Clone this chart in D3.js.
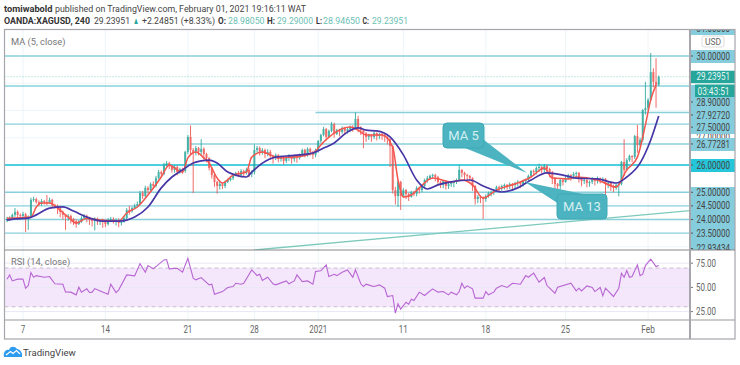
<!DOCTYPE html>
<html>
<head>
<meta charset="utf-8">
<script src="https://cdn.jsdelivr.net/npm/d3@7"></script>
<style>
    html, body { margin: 0; padding: 0; background: #fff; }
    svg { display: block; }
    text { font-family: Roboto, "Noto Sans", sans-serif; }
</style>
</head>
<body>
<svg id="chart" width="740" height="365"></svg>
<script>
// 4h bars
const closes = [
    24.02, 24.05, 24.17, 24.28, 24.17, 24.13, 24.20, 24.05, 24.09, 24.72,
    24.75, 24.64, 24.57, 24.68, 24.64, 24.61, 24.72, 24.53, 24.50, 24.42,
    24.28, 24.17, 24.09, 24.13, 24.02, 23.94, 23.83, 23.91, 24.05, 24.13,
    24.05, 23.98, 23.94, 24.02, 23.94, 23.98, 23.91, 23.83, 23.98, 24.02,
    23.94, 23.98, 23.87, 23.91, 24.05, 24.35, 24.31, 24.42, 24.50, 24.57,
    24.97, 24.86, 25.16, 25.08, 25.30, 25.23, 25.52, 25.74, 25.67, 26.00,
    26.07, 25.96, 25.82, 25.93, 25.74, 25.85, 25.78, 26.48, 27.03, 26.55,
    26.44, 26.62, 26.48, 26.59, 26.40, 26.26, 25.89, 25.63, 25.38, 25.23,
    25.30, 25.23, 25.38, 25.45, 25.52, 25.60, 25.71, 25.63, 25.78, 25.71,
    25.82, 25.67, 25.74, 26.55, 26.62, 26.48, 26.55, 26.40, 26.48, 26.33,
    26.26, 26.37, 26.22, 26.29, 26.15, 26.26, 26.33, 26.22, 26.33, 26.26,
    26.37, 26.55, 26.40, 26.59, 26.48, 26.37, 26.55, 26.88, 27.10, 27.32,
    27.03, 27.25, 27.50, 27.14, 27.28, 27.21, 27.36, 27.25, 27.32, 27.39,
    27.36, 27.69, 27.39, 27.28, 27.17, 27.03, 27.10, 27.03, 27.17, 27.06,
    27.14, 27.10, 27.03, 26.95, 26.70, 25.08, 24.86, 25.38, 24.86, 25.08,
    24.94, 24.83, 25.01, 24.94, 25.16, 25.08, 25.23, 25.45, 25.52, 25.60,
    25.63, 25.56, 25.38, 25.27, 25.41, 25.23, 25.30, 25.34, 25.38, 25.45,
    25.82, 25.71, 25.63, 25.60, 25.52, 25.23, 24.75, 24.83, 24.79, 24.75,
    24.86, 24.97, 25.01, 25.08, 25.19, 25.16, 25.23, 25.27, 25.23, 25.30,
    25.27, 25.34, 25.38, 25.30, 25.41, 25.45, 25.60, 25.78, 25.74, 25.89,
    25.93, 25.82, 25.96, 25.85, 25.74, 25.52, 25.30, 25.23, 25.45, 25.38,
    25.52, 25.63, 25.60, 25.67, 25.71, 25.49, 25.41, 25.45, 25.34, 25.38,
    25.49, 25.41, 25.52, 25.45, 25.49, 25.30, 25.34, 25.23, 25.16, 25.27,
    25.30, 26.11, 25.82, 26.18, 26.33, 26.29, 27.06, 26.73, 26.92, 28.02,
    28.09, 28.39, 29.41, 29.05, 28.94, 29.24
];
const highs = [
    24.10, 24.12, 24.22, 24.42, 24.33, 24.22, 24.28, 24.24, 24.15, 24.80,
    24.84, 24.80, 24.70, 24.75, 24.72, 24.90, 24.80, 24.76, 24.58, 24.55,
    24.46, 24.33, 24.20, 24.20, 24.18, 24.06, 24.00, 23.98, 24.12, 24.20,
    24.18, 24.10, 24.03, 24.08, 24.07, 24.02, 24.03, 23.96, 24.05, 24.09,
    24.08, 24.04, 24.04, 23.96, 24.12, 24.42, 24.50, 24.48, 24.58, 24.66,
    25.05, 25.05, 25.24, 25.22, 25.36, 25.40, 25.60, 25.82, 25.80, 26.08,
    26.15, 26.12, 26.00, 26.00, 25.98, 25.90, 25.90, 26.52, 27.10, 27.45,
    26.62, 26.70, 26.66, 26.95, 26.65, 26.45, 26.28, 25.92, 25.70, 25.42,
    25.38, 25.33, 25.43, 25.50, 25.58, 25.65, 25.75, 25.78, 25.85, 25.83,
    25.90, 25.88, 25.80, 26.75, 26.70, 26.68, 26.62, 26.60, 26.58, 26.55,
    26.38, 26.42, 26.40, 26.35, 26.33, 26.32, 26.40, 26.37, 26.38, 26.36,
    26.42, 26.60, 26.60, 26.65, 26.64, 26.52, 26.60, 26.92, 27.15, 27.40,
    27.36, 27.30, 27.58, 27.55, 27.33, 27.33, 27.42, 27.40, 27.38, 27.45,
    27.46, 27.93, 27.80, 27.42, 27.32, 27.20, 27.15, 27.14, 27.22, 27.20,
    27.18, 27.18, 27.14, 27.05, 26.98, 26.72, 25.20, 25.45, 25.42, 25.15,
    25.12, 24.98, 25.05, 25.05, 25.22, 25.20, 25.28, 25.50, 25.60, 25.65,
    25.68, 25.68, 25.60, 25.42, 25.45, 25.45, 25.36, 25.38, 25.42, 25.50,
    26.00, 25.85, 25.75, 25.68, 25.63, 25.55, 25.26, 24.90, 24.88, 24.85,
    24.92, 25.02, 25.06, 25.12, 25.24, 25.24, 25.28, 25.32, 25.30, 25.36,
    25.34, 25.38, 25.44, 25.40, 25.46, 25.50, 25.65, 25.82, 25.84, 25.95,
    26.05, 25.98, 26.04, 26.02, 25.90, 25.78, 25.55, 25.34, 25.50, 25.50,
    25.58, 25.68, 25.66, 25.74, 25.76, 25.74, 25.52, 25.50, 25.48, 25.43,
    25.56, 25.52, 25.58, 25.54, 25.55, 25.52, 25.38, 25.38, 25.28, 25.32,
    25.35, 26.15, 26.95, 26.25, 26.38, 26.36, 27.10, 27.47, 27.00, 28.05,
    29.05, 28.45, 30.11, 29.55, 29.92, 29.28
];
const lows = [
    23.90, 23.95, 23.98, 24.10, 24.05, 24.05, 24.10, 23.54, 23.62, 24.05,
    24.65, 24.58, 24.50, 24.50, 24.55, 24.52, 24.58, 24.45, 24.40, 24.20,
    24.08, 24.00, 23.62, 23.95, 23.85, 23.80, 23.70, 23.80, 23.88, 24.00,
    23.90, 23.80, 23.75, 23.60, 23.80, 23.80, 23.70, 23.72, 23.78, 23.90,
    23.85, 23.78, 23.72, 23.78, 23.88, 24.02, 24.18, 24.25, 24.38, 24.45,
    24.55, 24.75, 24.80, 24.95, 25.00, 25.15, 25.18, 25.48, 25.55, 25.62,
    25.95, 25.85, 25.72, 25.72, 25.62, 25.68, 25.68, 25.72, 26.40, 26.40,
    24.97, 26.35, 26.35, 26.35, 26.20, 26.10, 25.80, 25.50, 25.20, 24.95,
    25.10, 25.12, 25.15, 25.33, 25.40, 25.45, 25.58, 25.55, 25.55, 25.60,
    25.65, 25.55, 25.55, 25.65, 26.45, 26.35, 26.38, 26.25, 26.32, 26.20,
    26.05, 26.18, 26.10, 26.12, 26.02, 26.08, 26.15, 26.05, 26.12, 26.08,
    26.20, 26.30, 26.28, 26.30, 26.35, 26.22, 26.28, 26.45, 26.80, 27.05,
    26.90, 27.00, 27.20, 27.00, 27.10, 27.05, 27.15, 27.10, 27.15, 27.22,
    27.22, 27.30, 27.20, 27.10, 26.62, 26.85, 26.92, 26.85, 26.95, 26.90,
    26.95, 26.92, 26.85, 26.75, 25.93, 24.95, 24.55, 24.46, 24.35, 24.80,
    24.75, 24.68, 24.80, 24.85, 24.85, 24.95, 25.00, 25.15, 25.35, 25.45,
    25.50, 25.40, 25.25, 25.15, 25.15, 25.10, 25.12, 25.20, 25.18, 25.30,
    25.40, 25.55, 25.45, 25.45, 25.40, 25.05, 24.55, 24.60, 24.60, 24.02,
    24.65, 24.80, 24.85, 24.90, 25.05, 25.00, 25.05, 25.10, 25.10, 25.12,
    25.10, 25.15, 25.22, 25.15, 25.20, 25.30, 25.40, 25.55, 25.60, 25.65,
    25.75, 25.70, 25.72, 25.70, 25.55, 25.30, 25.05, 24.98, 25.10, 25.25,
    25.35, 25.45, 25.42, 25.48, 25.55, 25.35, 25.22, 25.30, 25.18, 25.20,
    25.30, 25.25, 25.32, 25.32, 25.35, 24.83, 25.15, 25.05, 25.00, 25.08,
    24.85, 25.25, 25.60, 25.78, 26.12, 26.10, 26.22, 26.45, 26.65, 26.85,
    27.85, 28.00, 28.35, 28.85, 28.10, 28.90
];

// moving averages, read at the bars where the curves turn
const ma5Bars = [0, 9, 11, 13, 16, 19, 23, 26, 30, 35, 42, 45, 49, 53, 58, 61, 64, 66, 68, 71, 74, 76, 79, 81, 85, 90, 92, 96, 102, 108, 115, 119, 123, 129, 132, 135, 141, 145, 147, 149, 152, 155, 160, 167, 171, 175, 179, 184, 192, 197, 202, 205, 211, 214, 222, 229, 233, 237, 240, 242, 244];
const ma5Values = [24.05, 24.09, 24.46, 24.61, 24.61, 24.42, 24.09, 23.87, 24.05, 23.98, 23.94, 24.24, 24.46, 24.90, 25.56, 26.00, 25.82, 25.74, 26.26, 26.48, 26.26, 26.07, 25.52, 25.34, 25.63, 25.74, 26.29, 26.48, 26.26, 26.29, 26.44, 26.84, 27.17, 27.39, 27.28, 27.10, 27.10, 26.66, 25.45, 24.83, 24.90, 25.16, 25.52, 25.38, 25.45, 25.27, 24.79, 25.08, 25.34, 25.56, 25.89, 25.52, 25.49, 25.56, 25.45, 25.19, 25.82, 26.29, 27.47, 28.39, 28.94];
const ma13Bars = [0, 3, 8, 11, 16, 21, 25, 30, 36, 42, 48, 53, 58, 62, 66, 70, 73, 76, 79, 83, 86, 90, 92, 96, 101, 105, 110, 115, 119, 123, 128, 132, 135, 139, 144, 149, 154, 158, 162, 167, 174, 179, 186, 192, 197, 203, 209, 214, 222, 229, 233, 238, 242, 245];
const ma13Values = [23.98, 24.02, 24.05, 24.17, 24.42, 24.46, 24.31, 24.09, 23.94, 23.94, 24.09, 24.46, 25.16, 25.56, 25.82, 26.07, 26.15, 26.18, 26.07, 25.74, 25.63, 25.56, 25.74, 26.07, 26.29, 26.33, 26.37, 26.44, 26.62, 26.81, 27.21, 27.36, 27.28, 27.25, 27.03, 26.37, 25.45, 25.12, 25.27, 25.38, 25.45, 25.23, 25.01, 25.16, 25.45, 25.71, 25.63, 25.52, 25.49, 25.34, 25.56, 26.07, 26.92, 27.80];

const rsiBars = [0, 1, 2, 4, 6, 7, 8, 9, 10, 11, 14, 16, 18, 21, 22, 24, 26, 27, 28, 30, 31, 32, 33, 35, 38, 39, 41, 42, 45, 48, 50, 52, 53, 55, 59, 60, 61, 64, 66, 68, 70, 71, 73, 76, 77, 78, 81, 83, 85, 86, 88, 89, 92, 94, 95, 96, 98, 100, 101, 105, 106, 108, 109, 111, 113, 115, 116, 118, 120, 121, 123, 124, 126, 128, 130, 131, 133, 134, 135, 137, 138, 140, 142, 143, 145, 146, 147, 148, 150, 151, 152, 153, 155, 157, 160, 162, 164, 166, 167, 169, 170, 171, 172, 173, 175, 176, 179, 180, 181, 183, 184, 186, 188, 190, 193, 195, 196, 198, 200, 202, 203, 206, 207, 212, 214, 215, 216, 218, 220, 221, 223, 224, 225, 228, 230, 231, 232, 233, 234, 235, 237, 238, 239, 240, 242, 244, 245];
const rsiValues = [58.5, 62.9, 56.7, 58.5, 58.5, 49.2, 51.9, 65.3, 60.5, 62.2, 60.5, 61.2, 53.7, 53.3, 45.4, 45.1, 42.3, 50.2, 45.1, 48.5, 44.7, 45.1, 48.8, 46.4, 43.0, 53.3, 44.7, 47.5, 62.9, 61.9, 74.6, 65.7, 72.6, 69.1, 78.4, 78.8, 69.1, 69.8, 65.7, 80.1, 59.5, 57.8, 60.2, 52.6, 53.3, 43.0, 45.7, 49.9, 50.9, 54.3, 53.3, 54.3, 68.1, 62.2, 63.6, 57.1, 60.5, 53.7, 52.6, 56.7, 53.7, 56.7, 62.9, 56.0, 56.7, 53.3, 66.4, 67.1, 73.3, 61.2, 63.6, 62.2, 65.7, 68.1, 60.5, 68.1, 53.7, 50.9, 53.3, 51.6, 50.9, 52.6, 49.2, 40.6, 41.6, 23.4, 33.0, 27.5, 34.7, 32.7, 37.8, 36.4, 45.1, 41.6, 48.5, 45.1, 45.7, 42.3, 45.1, 42.3, 45.7, 54.3, 49.2, 51.6, 48.5, 38.9, 38.9, 45.7, 42.3, 45.1, 49.2, 51.9, 49.9, 54.3, 53.3, 62.2, 60.5, 64.7, 55.4, 60.2, 51.9, 44.0, 50.2, 54.3, 46.4, 49.2, 46.4, 51.6, 49.9, 45.7, 49.9, 41.3, 49.2, 40.6, 49.2, 64.7, 60.5, 67.4, 60.5, 61.2, 73.3, 62.2, 63.6, 72.6, 79.1, 71.5, 72.6];

// drawn levels: [price, first bar]
const levelPrices = [30, 28.9, 27.9272, 27.5, 26.77281, 25, 24.5, 24, 23.5];
const levelStart = [-2, -2, 116, -2, 69, -2, -2, -2, -2];
const keyLevel = 26;
const trendBars = [93, 257];
const trendPrices = [22.88, 24.33];

const gridPrices = [31, 30, 29, 28, 27, 26, 25, 24, 23];
const tickBars = [6, 37, 68, 93, 117, 149, 180, 210, 241];
const tickLabels = ["7", "14", "21", "28", "2021", "11", "18", "25", "Feb"];
const rsiTicks = [75, 50, 25];
const priceLabels = ["31.00000", "30.00000", "28.90000", "27.92720", "27.50000", "26.77281", "26.00000", "25.00000", "24.50000", "24.00000", "23.50000", "22.93434"];
const priceLabelValues = [31, 30, 28.9, 27.9272, 27.5, 26.77281, 26, 25, 24.5, 24, 23.5, 22.93434];
const hiddenLabel = 27;
const lastPrice = 29.23951;

const teal = "#26a69a";
const red = "#ef5350";
const levelColor = "#8ad0dc";
const labelColor = "#85ccdc";
const frameColor = "#a6a6ac";
const gridColor = "#edf5f8";

const svg = d3.select("#chart");

// pane geometry
const left = 4.5, axisX = 690, right = 735;
const top1 = 30, bottom1 = 250, bottom2 = 320, bottom3 = 339;

const x = d3.scaleLinear().domain([0, 245]).range([7, 658.7]);
const y = d3.scaleLinear().domain([26, 30]).range([165, 56]);
const yRsi = d3.scaleLinear().domain([50, 75]).range([287.4, 263.2]);

svg.append("clipPath").attr("id", "pricePane")
    .append("rect")
    .attr("x", left).attr("y", top1)
    .attr("width", axisX - left).attr("height", bottom1 - top1);

svg.append("clipPath").attr("id", "priceAxis")
    .append("rect")
    .attr("x", axisX).attr("y", top1)
    .attr("width", right - axisX).attr("height", bottom1 - top1);

drawHeader();
drawGrid();
drawPricePane();
drawRsiPane();
drawCallouts();
drawPriceAxis();
drawFrame();
drawLogo();

// squeeze a text to the width it has in the picture
function fit(selection, width) {
    return selection.attr("textLength", width).attr("lengthAdjust", "spacingAndGlyphs");
}

function drawHeader() {
    const header = svg.append("g").style("font-size", "9.7px").style("fill", "#333");

    // x, y, text, width, bold, colour
    const parts = [
        [4, 12, "tomiwabold", 48.5, true, "#333"],
        [55, 12, "published on TradingView.com, February 01, 2021 19:16:11 WAT", 251, false, "#444"],
        [4, 24, "OANDA:XAGUSD, 240", 86, true, "#333"],
        [94, 24, "29.23951", 36, false, "#444"],
        [133, 24, "▲", 6, false, teal],
        [142, 24, "+2.24851 (+8.33%)", 73, false, "#444"],
        [218, 24, "O:", 8, true, "#333"],
        [228, 24, "28.98050", 36.5, false, "#6cc0b4"],
        [267, 24, "H:", 8, true, "#333"],
        [277, 24, "29.29000", 36, false, "#6cc0b4"],
        [316, 24, "L:", 6, true, "#333"],
        [323, 24, "28.94650", 37, false, "#6cc0b4"],
        [362.5, 24, "C:", 6.5, true, "#333"],
        [372, 24, "29.23951", 36, false, "#6cc0b4"]
    ];
    header.selectAll(".part")
        .data(parts)
        .enter().append("text")
        .attr("class", "part")
        .attr("x", d => d[0])
        .attr("y", d => d[1])
        .attr("textLength", d => d[3])
        .attr("lengthAdjust", "spacingAndGlyphs")
        .style("font-weight", d => d[4] ? 700 : 400)
        .style("fill", d => d[5])
        .text(d => d[2]);
}

function drawGrid() {
    const grid = svg.append("g").attr("clip-path", "url(#pricePane)");
    grid.selectAll("line")
        .data(gridPrices)
        .enter().append("line")
        .attr("x1", left).attr("x2", axisX)
        .attr("y1", d => y(d)).attr("y2", d => y(d))
        .style("stroke", gridColor);

    svg.append("g").selectAll("line")
        .data(tickBars)
        .enter().append("line")
        .attr("x1", d => x(d)).attr("x2", d => x(d))
        .attr("y1", top1).attr("y2", bottom2)
        .style("stroke", gridColor);
}

function drawPricePane() {
    const g = svg.append("g").attr("clip-path", "url(#pricePane)");

    // support and resistance levels
    g.append("g").selectAll("line")
        .data(levelPrices)
        .enter().append("line")
        .attr("x1", (d, i) => x(levelStart[i]))
        .attr("x2", axisX)
        .attr("y1", d => y(d)).attr("y2", d => y(d))
        .style("stroke", levelColor)
        .style("stroke-width", 1.4);

    g.append("line")
        .attr("x1", left).attr("x2", axisX)
        .attr("y1", y(keyLevel)).attr("y2", y(keyLevel))
        .style("stroke", "#4cd0e0")
        .style("stroke-width", 2);

    g.append("line")
        .attr("x1", x(trendBars[0])).attr("x2", x(trendBars[1]))
        .attr("y1", y(trendPrices[0])).attr("y2", y(trendPrices[1]))
        .style("stroke", "#7ccabb")
        .style("stroke-width", 1.3);

    g.append("line")
        .attr("x1", left).attr("x2", axisX)
        .attr("y1", y(lastPrice)).attr("y2", y(lastPrice))
        .style("stroke", "#8fd3ca")
        .style("stroke-dasharray", "1,2");

    // candles, each opens at the previous close
    const candles = closes.map((c, i) => ({
        bar: i,
        open: i ? closes[i - 1] : c,
        close: c,
        high: highs[i],
        low: lows[i]
    }));
    const candle = g.append("g").selectAll("g")
        .data(candles)
        .enter().append("g")
        .style("opacity", 0.85);
    const candleColor = d => d.close >= d.open ? teal : red;

    candle.append("line")
        .attr("x1", d => x(d.bar)).attr("x2", d => x(d.bar))
        .attr("y1", d => y(d.high)).attr("y2", d => y(d.low))
        .style("stroke", candleColor);

    candle.append("rect")
        .attr("x", d => x(d.bar) - 1)
        .attr("width", 2)
        .attr("y", d => y(Math.max(d.open, d.close)))
        .attr("height", d => Math.max(1, Math.abs(y(d.open) - y(d.close))))
        .style("fill", candleColor);

    // moving averages
    const curve = d3.line()
        .x(d => x(d[0]))
        .y(d => y(d[1]))
        .curve(d3.curveMonotoneX);

    g.append("path")
        .attr("d", curve(d3.zip(ma5Bars, ma5Values)))
        .style("fill", "none")
        .style("stroke", "#f4554e")
        .style("stroke-width", 1.5);

    g.append("path")
        .attr("d", curve(d3.zip(ma13Bars, ma13Values)))
        .style("fill", "none")
        .style("stroke", "#4736a6")
        .style("stroke-width", 1.7);

    svg.append("text")
        .attr("x", 11).attr("y", 45)
        .style("font-size", "9.3px").style("fill", "#777")
        .text("MA (5, close)");
}

function drawRsiPane() {
    const g = svg.append("g");

    g.append("rect")
        .attr("x", left).attr("width", axisX - left)
        .attr("y", yRsi(70)).attr("height", yRsi(30) - yRsi(70))
        .style("fill", "#f4e7fc");

    g.selectAll(".rsiBound")
        .data([70, 30])
        .enter().append("line")
        .attr("class", "rsiBound")
        .attr("x1", left).attr("x2", axisX)
        .attr("y1", d => yRsi(d)).attr("y2", d => yRsi(d))
        .style("stroke", "#c8bccf")
        .style("stroke-dasharray", "4,3");

    g.selectAll(".rsiGrid")
        .data(rsiTicks)
        .enter().append("line")
        .attr("class", "rsiGrid")
        .attr("x1", left).attr("x2", axisX)
        .attr("y1", d => yRsi(d)).attr("y2", d => yRsi(d))
        .style("stroke", "#e9e6f3");

    g.append("path")
        .attr("d", d3.line().x(d => x(d[0])).y(d => yRsi(d[1]))(d3.zip(rsiBars, rsiValues)))
        .style("fill", "none")
        .style("stroke", "#b865d3")
        .style("stroke-width", 1.1);

    svg.append("text")
        .attr("x", 11).attr("y", 265)
        .style("font-size", "9.3px").style("fill", "#777")
        .text("RSI (14, close)");

    // time axis
    const timeAxis = svg.append("g").attr("transform", "translate(0," + (bottom3 - 6) + ")")
        .style("font-size", "10px").style("fill", "#666");
    timeAxis.selectAll("text")
        .data(tickBars)
        .enter().append("text")
        .attr("x", d => x(d))
        .attr("text-anchor", "middle")
        .attr("textLength", (d, i) => tickLabels[i].length * 4.5)
        .attr("lengthAdjust", "spacingAndGlyphs")
        .text((d, i) => tickLabels[i]);

    // rsi axis
    const rsiAxis = svg.append("g");
    rsiAxis.selectAll("text")
        .data(rsiTicks)
        .enter().append("text")
        .attr("x", 696)
        .attr("y", d => yRsi(d))
        .attr("dy", ".35em")
        .attr("textLength", 20)
        .attr("lengthAdjust", "spacingAndGlyphs")
        .style("font-size", "10px").style("fill", "#666")
        .text(d => d.toFixed(2));
    rsiAxis.selectAll("line")
        .data(rsiTicks)
        .enter().append("line")
        .attr("x1", axisX).attr("x2", axisX + 3)
        .attr("y1", d => yRsi(d)).attr("y2", d => yRsi(d))
        .style("stroke", "#777");
}

function drawCallouts() {
    const boxes = [
        {label: "MA 5", box: [443, 123, 41, 25], tail: [[465, 148], [484, 140], [527, 173]]},
        {label: "MA 13", box: [557, 194, 50, 25], tail: [[559, 204], [583, 194], [525, 182]]}
    ];
    const callout = svg.append("g").selectAll("g")
        .data(boxes)
        .enter().append("g");

    callout.append("polygon")
        .attr("points", d => d.tail.join(" "))
        .style("fill", "#4bb4c0");

    callout.append("rect")
        .attr("x", d => d.box[0]).attr("y", d => d.box[1])
        .attr("width", d => d.box[2]).attr("height", d => d.box[3])
        .attr("rx", 4)
        .style("fill", "#4bb4c0")
        .style("stroke", "#3fa9b6");

    callout.append("text")
        .attr("x", d => d.box[0] + d.box[2] / 2)
        .attr("y", d => d.box[1] + d.box[3] / 2)
        .attr("dy", ".36em")
        .attr("text-anchor", "middle")
        .style("font-size", "13px")
        .style("fill", "#d5eff2")
        .text(d => d.label);
}

function drawPriceAxis() {
    const axis = svg.append("g").attr("clip-path", "url(#priceAxis)");
    const width = right - axisX;

    // this one sits under the box of the level below it
    fit(axis.append("text")
        .attr("x", 696.5).attr("y", y(hiddenLabel)).attr("dy", ".36em")
        .style("font-size", "10px").style("fill", "#444")
        .text(hiddenLabel.toFixed(5)), 33.5);

    // background boxes of the level labels, [top, bottom]
    const boxes = [[30, 35], [50, 63], [85, 134], [138, 151], [187, 250]];
    axis.selectAll(".labelBox")
        .data(boxes)
        .enter().append("rect")
        .attr("class", "labelBox")
        .attr("x", axisX).attr("width", width)
        .attr("y", d => d[0]).attr("height", d => d[1] - d[0])
        .style("fill", labelColor);

    axis.append("rect")
        .attr("x", axisX).attr("width", width)
        .attr("y", 159).attr("height", 13)
        .style("fill", "#26c6da");

    axis.append("rect")
        .attr("x", axisX).attr("width", width)
        .attr("y", y(lastPrice) - 6).attr("height", 12.5)
        .style("fill", teal);
    axis.append("rect")
        .attr("x", 695).attr("width", width - 5)
        .attr("y", 84.5).attr("height", 12.5)
        .style("fill", teal);

    // some labels are pushed down so they do not overlap
    const dodge = {"28.90000": 16, "27.92720": 2.5, "27.50000": 3};
    axis.selectAll(".priceLabel")
        .data(priceLabelValues)
        .enter().append("text")
        .attr("class", "priceLabel")
        .attr("x", 696.5)
        .attr("y", (d, i) => y(d) + (dodge[priceLabels[i]] || 0))
        .attr("dy", ".36em")
        .attr("textLength", 33.5)
        .attr("lengthAdjust", "spacingAndGlyphs")
        .style("font-size", "10px")
        .style("fill", "#444")
        .text((d, i) => priceLabels[i]);

    axis.selectAll(".priceTick")
        .data(priceLabelValues)
        .enter().append("line")
        .attr("class", "priceTick")
        .attr("x1", axisX).attr("x2", axisX + 3)
        .attr("y1", (d, i) => y(d) + (dodge[priceLabels[i]] || 0))
        .attr("y2", (d, i) => y(d) + (dodge[priceLabels[i]] || 0))
        .style("stroke", "#555");

    fit(axis.append("text")
        .attr("x", 696.5).attr("y", y(lastPrice)).attr("dy", ".36em")
        .style("font-size", "10px").style("fill", "#e6f6f3")
        .text(lastPrice.toFixed(5)), 33.5);
    fit(axis.append("text")
        .attr("x", 697.5).attr("y", 91).attr("dy", ".36em")
        .style("font-size", "10px").style("fill", "#e6f6f3")
        .text("03:43:51"), 32);

    // currency button
    axis.append("rect")
        .attr("x", 702).attr("y", 36)
        .attr("width", 22).attr("height", 11).attr("rx", 2)
        .style("fill", "#fff").style("stroke", "#ddd");
    axis.append("text")
        .attr("x", 713).attr("y", 41.5).attr("dy", ".36em")
        .attr("text-anchor", "middle")
        .style("font-size", "8.5px").style("fill", "#666")
        .text("USD");
}

function drawFrame() {
    const frame = svg.append("g").style("stroke", frameColor).style("fill", "none");
    frame.append("rect")
        .attr("x", left).attr("y", top1 - 0.5)
        .attr("width", right - left).attr("height", bottom3 - top1 + 0.5)
        .style("stroke-width", 1.2);
    frame.append("line")
        .attr("x1", left).attr("x2", right)
        .attr("y1", bottom1).attr("y2", bottom1)
        .style("stroke", "#888");
    frame.append("line")
        .attr("x1", left).attr("x2", right)
        .attr("y1", bottom2).attr("y2", bottom2)
        .style("stroke", "#999");
    frame.append("line")
        .attr("x1", axisX).attr("x2", axisX)
        .attr("y1", top1).attr("y2", bottom3)
        .style("stroke-width", 2);
}

function drawLogo() {
    const logo = svg.append("g");
    logo.append("path")
        .attr("d", "M4 357 C3 352 6 349 9 350 C10 346 15 346 17 349 C20 349 23 353 22 357 Z")
        .style("fill", "#2d9cf0");
    logo.append("path")
        .attr("d", "M6 355 L10.5 351.5 L13 353.5 L16.5 350.5 L20 354")
        .style("fill", "none")
        .style("stroke", "#fff")
        .style("stroke-width", 1.2);
    logo.append("text")
        .attr("x", 23).attr("y", 356)
        .style("font-size", "9.6px").style("fill", "#444")
        .text("TradingView");
}
</script>
</body>
</html>
